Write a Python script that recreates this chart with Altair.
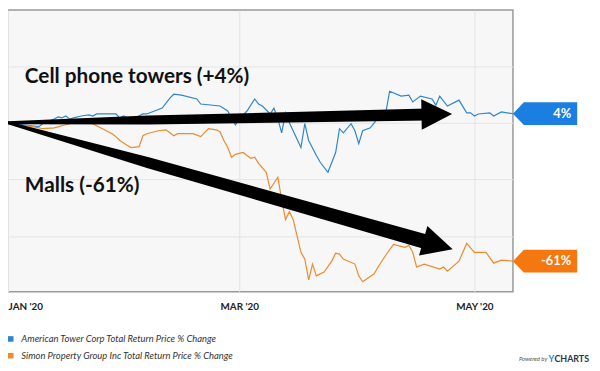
import altair as alt
import pandas as pd

# ---------------- data ----------------
series_names = ["American Tower Corp Total Return Price % Change",
                "Simon Property Group Inc Total Return Price % Change"]
series_colors = ["#2f86cc", "#ec8a2c"]
tag_colors = ["#1a7fe0", "#f5770f"]
tag_labels = ["4%", "-61%"]

tower_dates = ["2020-01-01", "2020-01-07", "2020-01-09", "2020-01-10", "2020-01-13", "2020-01-14",
               "2020-01-15", "2020-01-16", "2020-01-17", "2020-01-18", "2020-01-20", "2020-01-22",
               "2020-01-23", "2020-01-24", "2020-01-29", "2020-01-30", "2020-01-31", "2020-02-01",
               "2020-02-03", "2020-02-05", "2020-02-06", "2020-02-10", "2020-02-12", "2020-02-13",
               "2020-02-15", "2020-02-19", "2020-02-20", "2020-02-25", "2020-02-27", "2020-02-29",
               "2020-03-01", "2020-03-03", "2020-03-05", "2020-03-06", "2020-03-07", "2020-03-09",
               "2020-03-10", "2020-03-11", "2020-03-12", "2020-03-13", "2020-03-14", "2020-03-17",
               "2020-03-18", "2020-03-19", "2020-03-21", "2020-03-22", "2020-03-24", "2020-03-26",
               "2020-03-27", "2020-03-28", "2020-03-30", "2020-03-31", "2020-04-01", "2020-04-02",
               "2020-04-04", "2020-04-05", "2020-04-06", "2020-04-07", "2020-04-08", "2020-04-09",
               "2020-04-12", "2020-04-14", "2020-04-15", "2020-04-17", "2020-04-20", "2020-04-21",
               "2020-04-22", "2020-04-24", "2020-04-27", "2020-04-29", "2020-04-30", "2020-05-01",
               "2020-05-02", "2020-05-05", "2020-05-06", "2020-05-08", "2020-05-11"]
tower_values = [0, -1.3, -1.7, -0.4, 1.7, 2.6,
                2.2, 3.0, 1.7, 2.2, 3.0, 3.5,
                3.0, 3.9, 3.9, 2.2, 3.0, 2.2,
                2.2, 3.9, 3.9, 6.5, 10.9, 12.6,
                12.2, 10.5, 8.3, 7.4, 5.2, -0.9,
                1.7, 5.2, 10.5, 8.3, 7.4, 3.9,
                6.5, 1.7, -4.4, 4.4, 0.0, -10.9,
                -0.4, -7.8, -14.4, -17.4, -21.8, -13.1,
                -2.6, -4.4, -0.4, -3.5, -9.2, -3.5,
                -2.2, 0.0, 2.2, 2.2, 4.4, 13.9,
                11.8, 12.2, 9.2, 11.8, 10.5, 7.8,
                11.8, 7.4, 10.0, 4.4, 4.4, 3.0,
                3.9, 4.4, 3.0, 4.8, 4.0]

mall_dates = ["2020-01-01", "2020-01-05", "2020-01-06", "2020-01-09", "2020-01-10", "2020-01-13",
              "2020-01-15", "2020-01-17", "2020-01-19", "2020-01-22", "2020-01-23", "2020-01-24",
              "2020-01-25", "2020-01-28", "2020-01-29", "2020-01-30", "2020-02-01", "2020-02-02",
              "2020-02-04", "2020-02-05", "2020-02-06", "2020-02-09", "2020-02-11", "2020-02-12",
              "2020-02-13", "2020-02-14", "2020-02-18", "2020-02-20", "2020-02-22", "2020-02-24",
              "2020-02-25", "2020-02-26", "2020-02-27", "2020-02-28", "2020-02-29", "2020-03-02",
              "2020-03-03", "2020-03-04", "2020-03-05", "2020-03-06", "2020-03-08", "2020-03-09",
              "2020-03-11", "2020-03-12", "2020-03-13", "2020-03-14", "2020-03-15", "2020-03-17",
              "2020-03-18", "2020-03-19", "2020-03-20", "2020-03-21", "2020-03-23", "2020-03-25",
              "2020-03-26", "2020-03-27", "2020-03-28", "2020-03-31", "2020-04-01", "2020-04-02",
              "2020-04-05", "2020-04-06", "2020-04-08", "2020-04-10", "2020-04-13", "2020-04-14",
              "2020-04-15", "2020-04-16", "2020-04-18", "2020-04-22", "2020-04-23", "2020-04-24",
              "2020-04-27", "2020-04-29", "2020-05-01", "2020-05-04", "2020-05-06", "2020-05-08",
              "2020-05-11"]
mall_values = [0, -1.3, -1.3, -2.2, -2.6, -2.2,
               -1.3, -0.4, 0.4, 0.4, -0.4, -1.3,
               -2.2, -4.8, -6.1, -7.8, -10.0, -10.9,
               -10.5, -5.7, -4.8, -3.5, -3.1, -4.4,
               -5.7, -4.8, -4.8, -6.1, -2.6, -3.1,
               -3.9, -7.8, -10.9, -15.2, -13.9, -13.1,
               -14.4, -15.7, -15.2, -17.9, -21.8, -29.2,
               -24.0, -34.0, -42.7, -39.2, -42.7, -57.1,
               -60.1, -69.3, -62.3, -67.5, -65.8, -61.0,
               -57.5, -57.9, -60.1, -62.3, -67.5, -70.1,
               -66.6, -63.6, -58.4, -53.6, -54.9, -54.0,
               -57.1, -63.6, -62.3, -64.5, -63.6, -65.4,
               -61.0, -53.2, -57.1, -57.1, -61.9, -60.6,
               -61.0]

tick_dates = ["2020-01-01", "2020-03-01", "2020-05-01"]
grid_values = [-50, -25, 0, 25]

# annotations (in data coordinates)
note_texts = ["Cell phone towers (+4%)", "Malls (-61%)"]
note_dates = ["2020-01-05T09:00", "2020-01-05T09:00"]
note_values = [17.4, -30.5]

arrow_ids = ["towers", "towers", "towers", "malls", "malls", "malls"]
arrow_dates = ["2020-01-01T00:00", "2020-02-06T10:00", "2020-04-18T17:00",
               "2020-01-01T00:00", "2020-02-06T10:00", "2020-04-20T18:00"]
arrow_values = [0.0, 1.22, 3.66, 0.0, -17.6, -53.6]
arrow_widths = [3, 9, 12, 3, 11, 15]

head_dates = ["2020-04-21T06:00", "2020-04-21T13:00"]
head_values = [3.8, -53.9]
head_angles = [358.9, 15.9]

# ---------------- frames ----------------
lines = pd.concat([
    pd.DataFrame({"date": pd.to_datetime(tower_dates), "value": tower_values, "name": series_names[0]}),
    pd.DataFrame({"date": pd.to_datetime(mall_dates), "value": mall_values, "name": series_names[1]}),
])
last = pd.DataFrame({
    "date": pd.to_datetime([tower_dates[-1], mall_dates[-1]]),
    "value": [tower_values[-1], mall_values[-1]],
    "name": series_names,
    "label": tag_labels,
})
notes = pd.DataFrame({"date": pd.to_datetime(note_dates), "value": note_values, "text": note_texts})
arrows = pd.DataFrame({"id": arrow_ids, "date": pd.to_datetime(arrow_dates),
                       "value": arrow_values, "w": arrow_widths})
heads = pd.DataFrame({"date": pd.to_datetime(head_dates), "value": head_values, "angle": head_angles})

def dt(s):
    t = pd.Timestamp(s)
    return alt.DateTime(year=t.year, month=t.month, date=t.day)

x_scale = alt.Scale(domain=[dt("2020-01-01"), dt("2020-05-11")])
y_scale = alt.Scale(domain=[-74.5, 49.7], nice=False, zero=False)

x_axis = alt.Axis(
    values=[dt(d) for d in tick_dates],
    labelExpr="upper(timeFormat(datum.value, '%b')) + \" '\" + timeFormat(datum.value, '%y')",
    labelAlign={"condition": {"test": "datum.value < datetime(2020, 1, 1)", "value": "left"},
                "value": "center"},
    grid=True, gridColor="#e4e4e4", gridWidth=1,
    domain=False, ticks=False, title=None,
    labelFont="Lato", labelFontWeight="bold", labelFontSize=10, labelColor="#222222",
    labelPadding=10,
)
y_axis = alt.Axis(values=grid_values, grid=True, gridColor="#e4e4e4", gridWidth=1,
                  labels=False, ticks=False, domain=False, title=None)

X = alt.X("date:T", scale=x_scale, axis=x_axis)
Y = alt.Y("value:Q", scale=y_scale, axis=y_axis)
Xn = alt.X("date:T", scale=x_scale)
Yn = alt.Y("value:Q", scale=y_scale)

legend = alt.Legend(orient="none", legendX=-2, legendY=328, title=None,
                    symbolType="square", symbolSize=32, symbolOpacity=1,
                    symbolStrokeWidth=0,
                    labelFont="Lato", labelFontStyle="italic", labelFontSize=9.5,
                    labelColor="#333333", labelLimit=400, rowPadding=6,
                    padding=0, labelOffset=6)
color = alt.Color("name:N", scale=alt.Scale(domain=series_names, range=series_colors), legend=legend)

legend_layer = alt.Chart(lines).mark_point(filled=True, shape="square", opacity=0).encode(
    x=X, y=Y, color=color,
)

line_layer = alt.Chart(lines).mark_line(strokeWidth=1.2).encode(
    x=Xn, y=Yn, color=color, detail="name:N",
)

trail_layer = alt.Chart(arrows).mark_trail(color="black").encode(
    x=Xn, y=Yn, detail="id:N", size=alt.Size("w:Q", scale=None, legend=None),
)

head_layer = alt.Chart(heads).mark_point(
    shape="M 1 0 L -1 -1 L -1 1 Z", filled=True, color="black", opacity=1, size=961, strokeWidth=0
).encode(x=Xn, y=Yn, angle=alt.Angle("angle:Q", scale=None))

note_layer = alt.Chart(notes).mark_text(
    align="left", baseline="alphabetic", font="Lato", fontWeight="bold", fontSize=21, color="#111111"
).encode(x=Xn, y=Yn, text="text:N")

tag_layer = alt.Chart(last).mark_point(
    shape="M -1 0 L -0.66 -0.354 L 1 -0.354 L 1 0.354 L -0.66 0.354 Z",
    filled=True, opacity=1, size=4225, xOffset=32.5, strokeWidth=0,
).encode(x=Xn, y=Yn, fill=alt.Fill("name:N", scale=alt.Scale(domain=series_names, range=tag_colors), legend=None))

tag_text = alt.Chart(last).mark_text(
    align="right", baseline="middle", font="Lato", fontWeight="bold", fontSize=13, color="white", xOffset=59
).encode(x=Xn, y=Yn, text="label:N")

powered = alt.Chart(pd.DataFrame({"t": ["Powered by"]})).mark_text(
    align="left", baseline="middle", font="Lato", fontStyle="italic", fontSize=6, color="#555555"
).encode(x=alt.value(517), y=alt.value(353), text="t:N")
brand_y = alt.Chart(pd.DataFrame({"t": ["Y"]})).mark_text(
    align="left", baseline="middle", font="Lato", fontWeight="bold", fontSize=9, color="#1a8fe0"
).encode(x=alt.value(547), y=alt.value(353), text="t:N")
brand = alt.Chart(pd.DataFrame({"t": ["CHARTS"]})).mark_text(
    align="left", baseline="middle", font="Lato", fontWeight="bold", fontSize=9, color="#2b3544"
).encode(x=alt.value(553), y=alt.value(353), text="t:N")

chart = alt.layer(
    legend_layer, line_layer, trail_layer, head_layer, note_layer, tag_layer, tag_text,
    powered, brand_y, brand,
).properties(
    width=511, height=285,
    autosize=alt.AutoSizeParams(type="none"),
    padding={"left": 0, "top": 0, "right": 80, "bottom": 72},
    background="white",
).configure_view(
    fill="#f7f7f7", stroke="#999999", strokeWidth=1.5,
)

chart.save("out.html", embed_options={"renderer": "svg", "actions": False})
